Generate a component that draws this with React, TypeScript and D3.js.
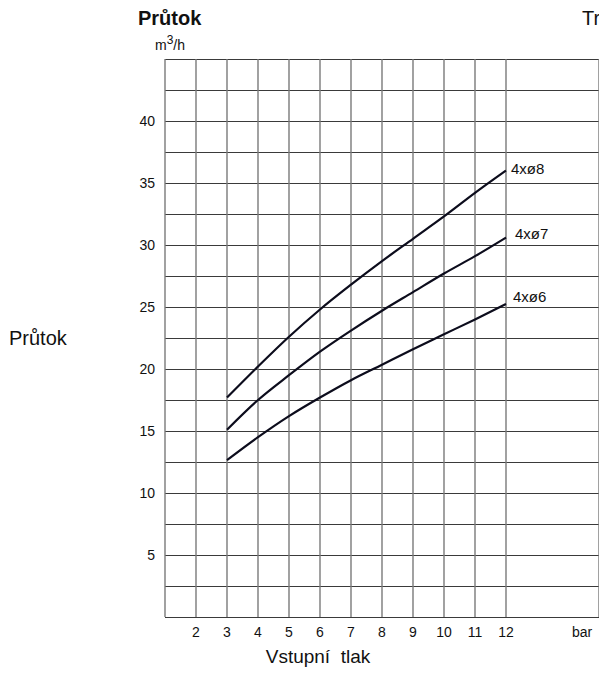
import React from 'react';
import * as d3 from 'd3';

const W = 599;
const H = 673;

// inlet pressure, bar
const pressure = [3, 4, 5, 6, 7, 8, 9, 10, 11, 12];
// flow, m3/h
const flow8 = [17.7, 20.2, 22.6, 24.8, 26.8, 28.7, 30.5, 32.3, 34.2, 36.0];
const flow7 = [15.1, 17.5, 19.5, 21.4, 23.1, 24.7, 26.2, 27.7, 29.1, 30.6];
const flow6 = [12.65, 14.5, 16.2, 17.7, 19.1, 20.35, 21.6, 22.8, 24.0, 25.25];

const seriesNames = ['4xø8', '4xø7', '4xø6'];
const seriesValues = [flow8, flow7, flow6];

const xTicks = [2, 3, 4, 5, 6, 7, 8, 9, 10, 11, 12];
const xGrid = [1, 2, 3, 4, 5, 6, 7, 8, 9, 10, 11, 12, 15];
const yTicks = [5, 10, 15, 20, 25, 30, 35, 40];
const yGrid = d3.range(0, 45.01, 2.5);

// label nudges next to the curve ends
const labelOffset = [
  { dx: 5, dy: 3 },
  { dx: 9, dy: 1.5 },
  { dx: 7, dy: -2 },
];

const FONT = '"Liberation Sans", Arial, sans-serif';

const App: React.FC = () => {
  const x = d3.scaleLinear().domain([1, 15]).range([165, 599]);
  const y = d3.scaleLinear().domain([0, 45]).range([617, 59]);

  const line = d3
    .line<number>()
    .x((_, i) => x(pressure[i]))
    .y(d => y(d))
    .curve(d3.curveMonotoneX);

  return (
    <div style={{ position: 'absolute', left: 0, top: 0 }}>
      <svg width={W} height={H} style={{ display: 'block', background: '#fff' }} fontFamily={FONT}>
        {/* grid */}
        {yGrid.map(v => (
          <line
            key={'h' + v}
            x1={x(1)}
            x2={x(15)}
            y1={Math.round(y(v)) + 0.5}
            y2={Math.round(y(v)) + 0.5}
            stroke="#3a3a3a"
            strokeWidth={1}
          />
        ))}
        {xGrid.map(v => (
          <line
            key={'v' + v}
            x1={x(v)}
            x2={x(v)}
            y1={y(45)}
            y2={y(0)}
            stroke="#7a7a7a"
            strokeWidth={1.4}
          />
        ))}

        {/* curves */}
        {seriesValues.map((vals, i) => (
          <path key={seriesNames[i]} d={line(vals) || ''} fill="none" stroke="#0c0c1c" strokeWidth={2.2} />
        ))}
        {seriesValues.map((vals, i) => (
          <text
            key={'l' + i}
            x={x(pressure[pressure.length - 1]) + labelOffset[i].dx}
            y={y(vals[vals.length - 1]) + labelOffset[i].dy}
            fontSize={15}
            fill="#111"
          >
            {seriesNames[i]}
          </text>
        ))}

        {/* y ticks */}
        {yTicks.map(v => (
          <text key={'yt' + v} x={155} y={y(v) + 5} textAnchor="end" fontSize={14} fill="#111">
            {v}
          </text>
        ))}
        {/* x ticks */}
        {xTicks.map(v => (
          <text key={'xt' + v} x={x(v)} y={637} textAnchor="middle" fontSize={14} fill="#111">
            {v}
          </text>
        ))}
        <text x={572} y={637} fontSize={14} fill="#111">bar</text>

        <text x={318} y={663} textAnchor="middle" fontSize={19} fill="#111" xmlSpace="preserve">
          Vstupní  tlak
        </text>

        {/* titles */}
        <text x={138} y={25} fontSize={20} fontWeight="bold" fill="#111">Průtok</text>
        <text x={155} y={50} fontSize={14} fill="#111">
          m<tspan dy={-6} fontSize={12}>3</tspan>
          <tspan dy={6}>/h</tspan>
        </text>
        <text x={582} y={25} fontSize={20} fill="#111">Tr</text>
        <text x={9} y={345} fontSize={20} fill="#111">Průtok</text>
      </svg>
    </div>
  );
};

export default App;
